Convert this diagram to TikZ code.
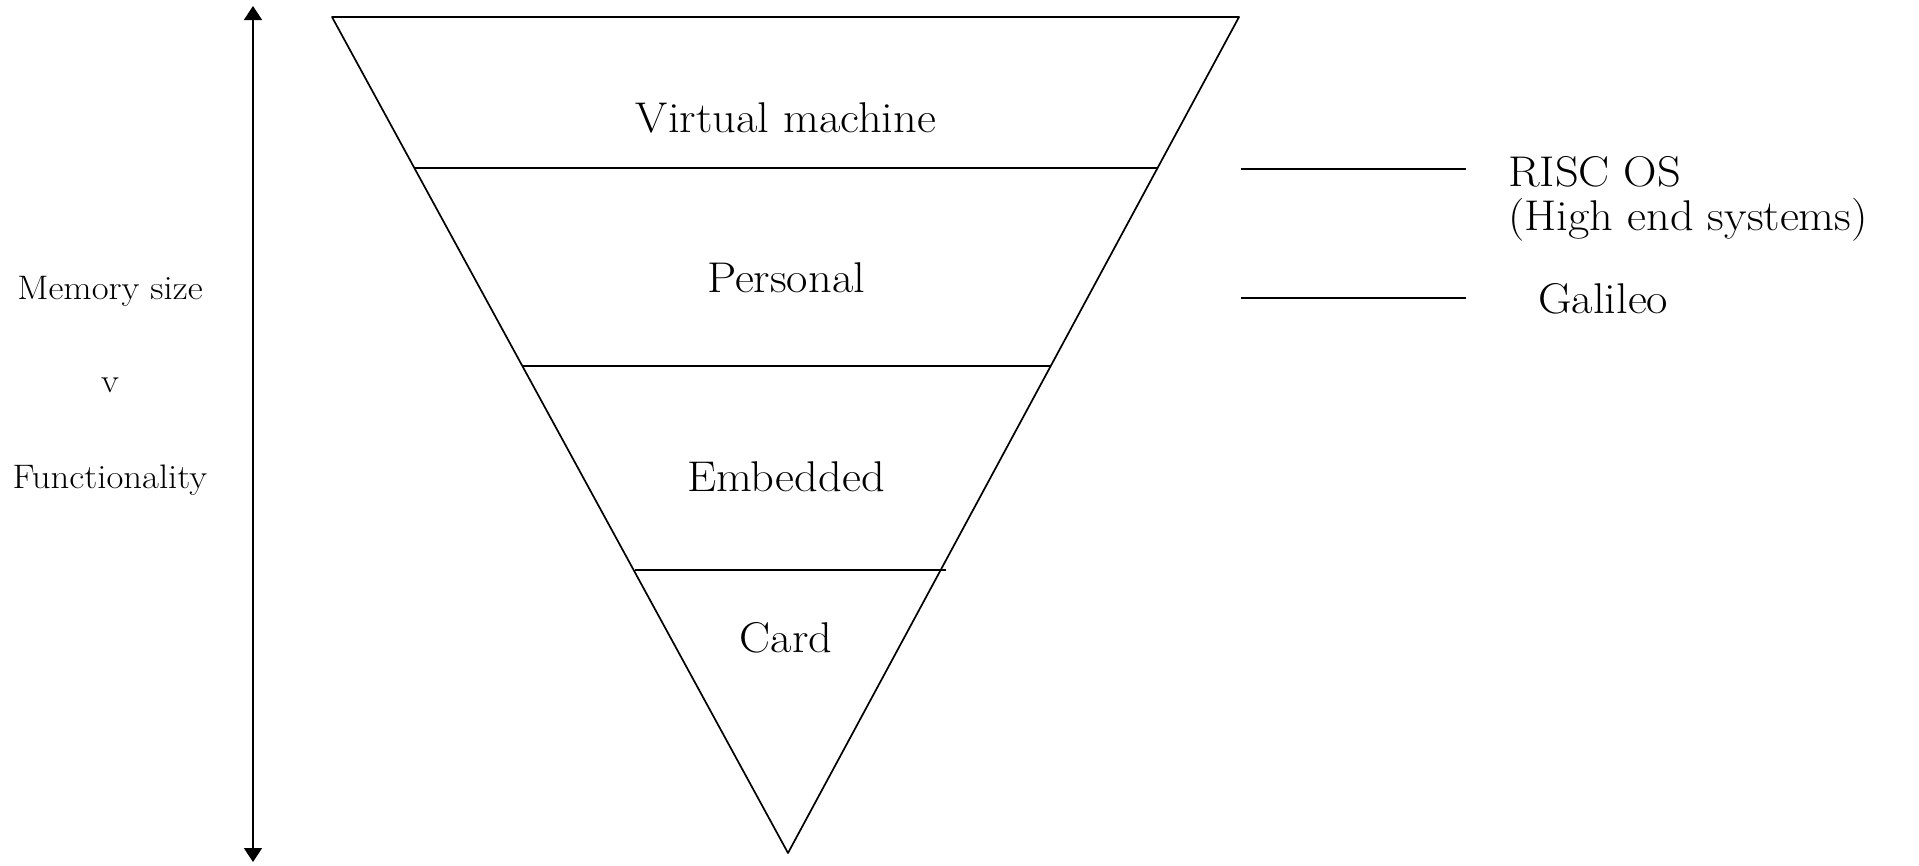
\documentclass[tikz,border=0pt]{standalone}
\usepackage{fontspec}
\setmainfont{Latin Modern Roman}[FakeStretch=1.08]
\usetikzlibrary{arrows.meta}
\begin{document}
\begin{tikzpicture}[x=1pt,y=-1pt,
  edge/.style={line width=1.7pt, line join=round},
  bigtxt/.style={font=\fontsize{43}{48}\selectfont, inner sep=0pt, anchor=base},
  sidetxt/.style={font=\fontsize{43}{48}\selectfont, inner sep=0pt, anchor=base west},
  lefttxt/.style={font=\fontsize{34}{38}\selectfont, inner sep=0pt, anchor=base}]
\useasboundingbox (0,0) rectangle (1919,865);
% axis arrow
\coordinate (atop) at (253,6);
\coordinate (abot) at (253,862);
\draw[edge, {Triangle[width=18pt,length=14pt]}-{Triangle[width=18pt,length=14pt]}] (atop) -- (abot);
% triangle
\coordinate (tl) at (332,17);
\coordinate (tr) at (1239,17);
\coordinate (ap) at (788,853);
\draw[edge] (tl) -- (tr) -- (ap) -- cycle;
% dividers
\coordinate (d1l) at (415,168); \coordinate (d1r) at (1157,168);
\coordinate (d2l) at (523,366); \coordinate (d2r) at (1050,366);
\coordinate (d3l) at (635,570); \coordinate (d3r) at (946,570);
\draw[edge] (d1l) -- (d1r);
\draw[edge] (d2l) -- (d2r);
\draw[edge] (d3l) -- (d3r);
% layer labels
\node[bigtxt] (vm) at (786,132) {Virtual machine};
\node[bigtxt] (pers) at (786,292) {Personal};
\node[bigtxt] (emb) at (786,491) {Embedded};
\node[bigtxt] (card) at (786,652) {Card};
% right side
\coordinate (r1a) at (1241,169); \coordinate (r1b) at (1466,169);
\coordinate (r2a) at (1241,298); \coordinate (r2b) at (1466,298);
\draw[edge] (r1a) -- (r1b);
\draw[edge] (r2a) -- (r2b);
\node[sidetxt] (risc) at (1508,186) {RISC OS};
\node[sidetxt] (high) at (1508,230) {(High end systems)};
\node[sidetxt] (gal) at (1538,313) {Galileo};
% left labels
\node[lefttxt] (mem) at (110,299) {Memory size};
\node[lefttxt] (vs) at (110,392) {v};
\node[lefttxt] (func) at (110,488) {Functionality};
\end{tikzpicture}
\end{document}
